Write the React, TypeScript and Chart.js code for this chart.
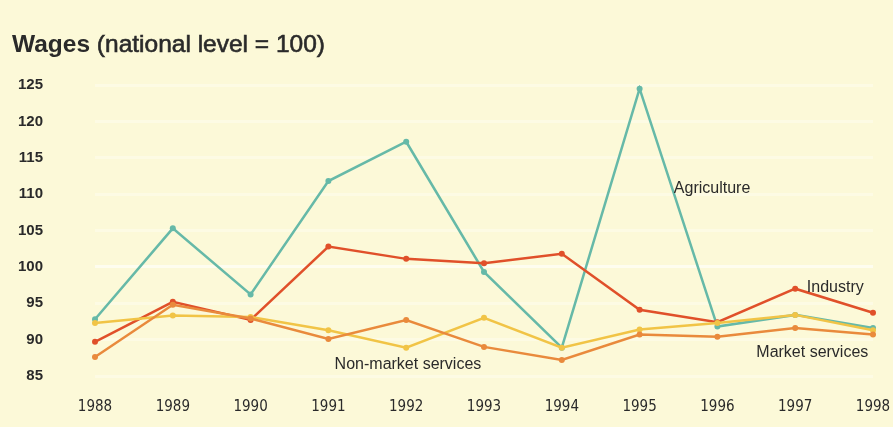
import React, { useEffect, useRef } from "react";
import { Chart, registerables } from "chart.js";

Chart.register(...registerables);

const years = ["1988", "1989", "1990", "1991", "1992", "1993", "1994", "1995", "1996", "1997", "1998"];
const agriculture = [92.8, 105.3, 96.2, 111.8, 117.2, 99.3, 88.9, 124.5, 91.8, 93.4, 91.6];
const industry = [89.7, 95.2, 92.7, 102.8, 101.1, 100.5, 101.8, 94.1, 92.4, 97.0, 93.7];
const marketServices = [87.6, 94.8, 92.9, 90.1, 92.7, 89.0, 87.2, 90.7, 90.4, 91.6, 90.7];
const nonMarketServices = [92.3, 93.3, 93.1, 91.3, 88.9, 93.0, 88.9, 91.4, 92.3, 93.4, 91.3];
const yTicks = [85, 90, 95, 100, 105, 110, 115, 120, 125];

const titleBold = "Wages";
const titleRest = " (national level = 100)";

// series name labels placed in data space (category index, value)
const seriesLabels = [
  { text: "Agriculture", idx: 7.44, val: 110.8 },
  { text: "Industry", idx: 9.15, val: 97.1 },
  { text: "Market services", idx: 8.5, val: 88.2 },
  { text: "Non-market services", idx: 3.08, val: 86.5 },
];

const COLORS = {
  agriculture: "#66b9a8",
  industry: "#e0502a",
  market: "#e98a3c",
  nonMarket: "#f1c446",
  bg: "#fcf9d8",
  text: "#2a2a2a",
};

export default function App() {
  const ref = useRef<HTMLCanvasElement>(null);

  useEffect(() => {
    const canvas = ref.current;
    if (!canvas) return;

    const bgPlugin = {
      id: "bg",
      beforeDraw(chart: any) {
        const ctx = chart.ctx;
        ctx.save();
        ctx.fillStyle = COLORS.bg;
        ctx.fillRect(0, 0, chart.width, chart.height);
        ctx.restore();
      },
    };

    const textPlugin = {
      id: "texts",
      afterDraw(chart: any) {
        const ctx = chart.ctx;
        ctx.save();
        ctx.fillStyle = COLORS.text;
        ctx.strokeStyle = COLORS.text;
        ctx.textBaseline = "alphabetic";
        ctx.font = "bold 24.5px 'Liberation Sans', Arial, sans-serif";
        ctx.fillText(titleBold, 12, 52);
        const w = ctx.measureText(titleBold).width;
        ctx.font = "24.5px 'Liberation Sans', Arial, sans-serif";
        ctx.lineWidth = 0.6;
        ctx.fillText(titleRest, 12 + w, 52);
        ctx.strokeText(titleRest, 12 + w, 52);

        const xs = chart.scales.x;
        const ys = chart.scales.y;
        ctx.font = "16px 'Liberation Sans', Arial, sans-serif";
        ctx.textBaseline = "middle";
        ctx.textAlign = "left";
        for (const l of seriesLabels) {
          ctx.fillText(l.text, xs.getPixelForValue(l.idx), ys.getPixelForValue(l.val));
        }
        ctx.restore();
      },
    };

    const mk = (label: string, data: number[], color: string) => ({
      label,
      data,
      borderColor: color,
      backgroundColor: color,
      borderWidth: 2.5,
      pointRadius: 3,
      pointBorderWidth: 0,
      pointBackgroundColor: color,
      tension: 0,
    });

    const chart = new Chart(canvas, {
      type: "line",
      data: {
        labels: years,
        datasets: [
          mk("Market services", marketServices, COLORS.market),
          mk("Non-market services", nonMarketServices, COLORS.nonMarket),
          mk("Industry", industry, COLORS.industry),
          mk("Agriculture", agriculture, COLORS.agriculture),
        ],
      },
      options: {
        animation: false,
        responsive: false,
        layout: { padding: { top: 85, left: 0, right: 20, bottom: 0 } },
        plugins: {
          legend: { display: false },
          title: { display: false },
          tooltip: { enabled: false },
        },
        scales: {
          x: {
            type: "category",
            offset: false,
            grid: { display: false, drawTicks: false },
            border: { display: false },
            ticks: {
              color: COLORS.text,
              font: { family: "'Liberation Sans Narrow', 'DejaVu Sans Condensed', sans-serif", size: 15 },
              padding: 22,
              maxRotation: 0,
              autoSkip: false,
            },
            afterFit(scale: any) {
              scale.height = 51;
              scale.paddingLeft = 0;
              scale.paddingRight = 0;
            },
          },
          y: {
            min: 85,
            max: 125,
            afterBuildTicks(scale: any) {
              scale.ticks = yTicks.map((v) => ({ value: v }));
            },
            grid: {
              drawTicks: false,
              lineWidth: 3,
              color: (c: any) =>
                c.tick && c.tick.value === 100 ? "rgba(255,255,255,0.6)" : "rgba(255,255,255,0.3)",
            },
            border: { display: false },
            ticks: {
              color: COLORS.text,
              font: { family: "'Liberation Sans', Arial, sans-serif", size: 15, weight: "bold" },
              padding: 52,
            },
            afterFit(scale: any) {
              scale.width = 95;
              scale.paddingTop = 0;
              scale.paddingBottom = 0;
            },
          },
        },
      },
      plugins: [bgPlugin, textPlugin],
    });

    return () => chart.destroy();
  }, []);

  return (
    <div style={{ position: "absolute", left: 0, top: 0, width: 893, height: 427 }}>
      <canvas ref={ref} width={893} height={427} />
    </div>
  );
}
